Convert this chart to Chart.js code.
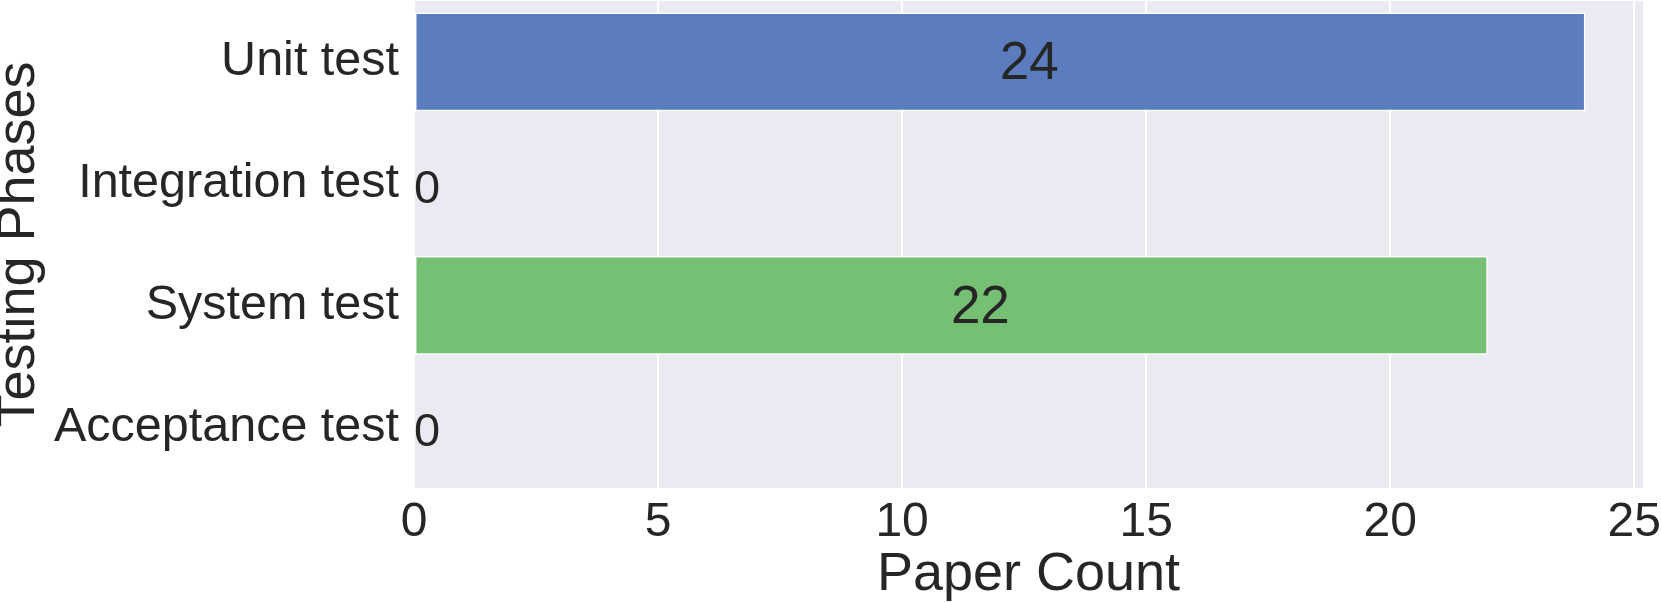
<!DOCTYPE html>
<html>
<head>
<meta charset="utf-8">
<script src="https://cdn.jsdelivr.net/npm/chart.js@4"></script>
<style>
  html, body { margin: 0; padding: 0; background: #ffffff; }
  canvas { display: block; }
</style>
</head>
<body>
<canvas id="phaseChart" width="1661" height="602"></canvas>
<script>
// data
const phases = ['Unit test', 'Integration test', 'System test', 'Acceptance test'];
const paperCounts = [24, 0, 22, 0];
const barColors = ['#5b7dbf', '#5b7dbf', '#76c073', '#76c073'];
const xTicks = [0, 5, 10, 15, 20, 25];

const FONT = "'Liberation Sans', Arial, Helvetica, sans-serif";
const TEXT = '#262626';

// bar value labels, left aligned at the middle of each bar (like the original)
const barLabels = {
    id: 'barLabels',
    afterDatasetsDraw(chart) {
        const ctx = chart.ctx;
        const xScale = chart.scales.x;
        const meta = chart.getDatasetMeta(0);
        ctx.save();
        ctx.fillStyle = TEXT;
        ctx.textAlign = 'left';
        ctx.textBaseline = 'middle';
        meta.data.forEach((bar, i) => {
            const v = paperCounts[i];
            const size = v === 0 ? 47 : 53;
            ctx.font = size + 'px ' + FONT;
            ctx.fillText(String(v), xScale.getPixelForValue(v / 2), bar.y + (v === 0 ? 6 : 3));
        });
        ctx.restore();
    }
};

// plot background
const plotBg = {
    id: 'plotBg',
    beforeDraw(chart) {
        const a = chart.chartArea;
        chart.ctx.save();
        chart.ctx.fillStyle = '#eaeaf2';
        chart.ctx.fillRect(a.left, a.top, a.right - a.left, a.bottom - a.top);
        chart.ctx.restore();
    }
};

new Chart(document.getElementById('phaseChart').getContext('2d'), {
    type: 'bar',
    data: {
        labels: phases,
        datasets: [{
            data: paperCounts,
            backgroundColor: barColors,
            borderColor: '#ffffff',
            borderWidth: 1.5,
            borderSkipped: false,
            categoryPercentage: 0.81,
            barPercentage: 1
        }]
    },
    options: {
        indexAxis: 'y',
        responsive: false,
        animation: false,
        layout: { padding: { top: 1, right: 18, left: 0, bottom: 0 } },
        plugins: { legend: { display: false }, tooltip: { enabled: false } },
        scales: {
            x: {
                min: 0,
                max: 25.18,
                afterBuildTicks(scale) {
                    scale.ticks = xTicks.map(v => ({ value: v }));
                },
                afterFit(scale) {
                    scale.height = 114;
                    scale.paddingLeft = 0;
                    scale.paddingRight = 0;
                },
                border: { display: false },
                grid: { color: '#ffffff', lineWidth: 2, drawTicks: false },
                ticks: {
                    padding: 6,
                    color: TEXT,
                    font: { family: FONT, size: 48 },
                    maxRotation: 0
                },
                title: {
                    display: true,
                    text: 'Paper Count',
                    color: TEXT,
                    font: { family: FONT, size: 54, lineHeight: 0.7 },
                    padding: { top: 0, bottom: 8 }
                }
            },
            y: {
                afterFit(scale) {
                    scale.width = 414;
                    scale.paddingTop = 0;
                    scale.paddingBottom = 0;
                },
                border: { display: false },
                grid: { display: false, drawTicks: false },
                ticks: {
                    padding: 15,
                    color: TEXT,
                    font: { family: FONT, size: 48.5 }
                },
                title: {
                    display: true,
                    text: 'Testing Phases',
                    color: TEXT,
                    font: { family: FONT, size: 54, lineHeight: 0.7 },
                    padding: { top: 0, bottom: 0 }
                }
            }
        }
    },
    plugins: [plotBg, barLabels]
});
</script>
</body>
</html>
